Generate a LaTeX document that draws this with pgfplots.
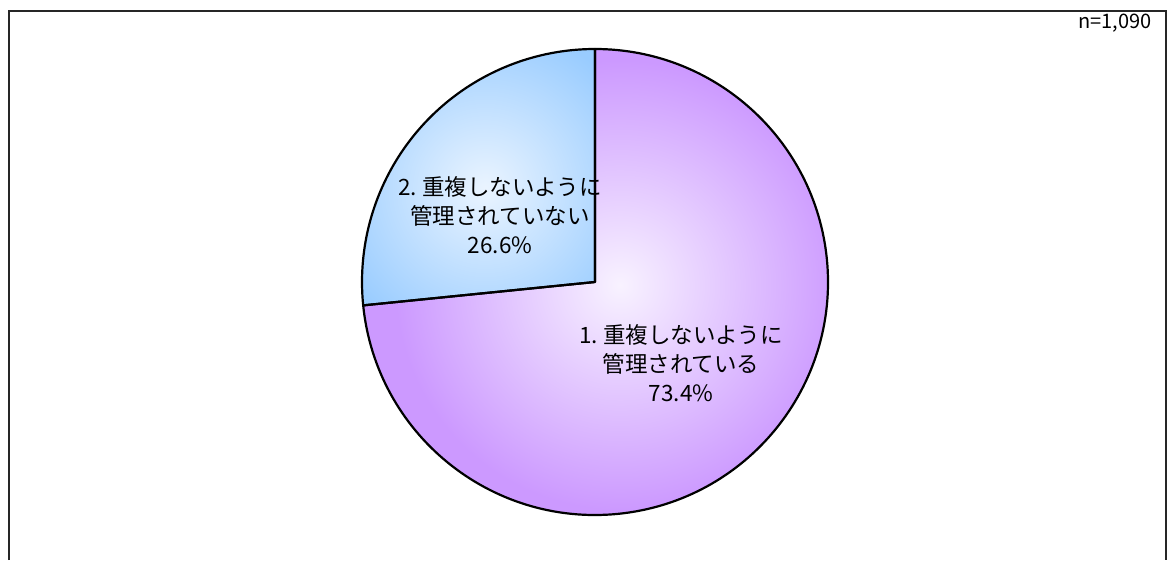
\documentclass[border=0pt]{standalone}
\usepackage{fontspec}
\setmainfont{Noto Sans CJK JP}
\usepackage{pgfplots}
\pgfplotsset{compat=1.18}
\usepackage{pgfplotstable}
\definecolor{cYes}{HTML}{CC99FF}
\definecolor{cYesLt}{HTML}{F8F2FF}
\definecolor{cNo}{HTML}{99CCFF}
\definecolor{cNoLt}{HTML}{EAF4FF}

% share of respondents (%), n=1,090
\pgfplotstableread{
id value
1  73.4
2  26.6
}\piedata

\begin{document}
\begin{tikzpicture}
\pgfplotstablegetelem{0}{value}\of\piedata \let\vYes\pgfplotsretval
\pgfplotstablegetelem{1}{value}\of\piedata \let\vNo\pgfplotsretval
\pgfmathsetmacro{\aSplit}{90+3.6*\vNo}
\pgfmathsetmacro{\aEnd}{\aSplit+3.6*\vYes}
\pgfkeys{/pgf/number format/.cd, fixed, precision=1, fixed zerofill, assume math mode=true}
\begin{axis}[
    width=1170pt, height=560pt, scale only axis,
    xmin=0, xmax=1170, ymin=0, ymax=560,
    hide axis, clip=false,
]
% background and frame
\fill[white] (axis cs:0,0) rectangle (axis cs:1170,560);
\draw[line width=1.5pt, black!85] (axis cs:9,0) -- (axis cs:9,549) -- (axis cs:1166,549) -- (axis cs:1166,0);

% slice 1
\begin{scope}
  \clip (axis cs:595,278) -- ++(\aSplit:233pt) arc[start angle=\aSplit, end angle=\aEnd, radius=233pt] -- cycle;
  \fill[cYes] (axis cs:595,278) circle[radius=240pt];
  \shade[inner color=cYesLt, outer color=cYes] (axis cs:620,275) circle[radius=225pt];
\end{scope}
% slice 2
\begin{scope}
  \clip (axis cs:595,278) -- ++(90:233pt) arc[start angle=90, end angle=\aSplit, radius=233pt] -- cycle;
  \fill[cNo] (axis cs:595,278) circle[radius=240pt];
  \shade[inner color=cNoLt, outer color=cNo] (axis cs:485,372) circle[radius=165pt];
\end{scope}
\draw[line width=2.2pt, line join=round] (axis cs:595,278) -- ++(\aSplit:233pt) arc[start angle=\aSplit, end angle=\aEnd, radius=233pt] -- cycle;
\draw[line width=2.2pt, line join=round] (axis cs:595,278) -- ++(90:233pt) arc[start angle=90, end angle=\aSplit, radius=233pt] -- cycle;

% labels
\node[align=center, font=\fontsize{22.5}{29}\selectfont] at (axis cs:500,345)
  {2.\hspace{0.25em}重複しないように\\管理されていない\\\pgfmathprintnumber{\vNo}\%};
\node[align=center, font=\fontsize{22.5}{29}\selectfont] at (axis cs:681,197)
  {1.\hspace{0.25em}重複しないように\\管理されている\\\pgfmathprintnumber{\vYes}\%};
\node[anchor=east, font=\fontsize{20}{22}\selectfont] at (axis cs:1155,537) {n=1,090};
\end{axis}
\end{tikzpicture}
\end{document}
